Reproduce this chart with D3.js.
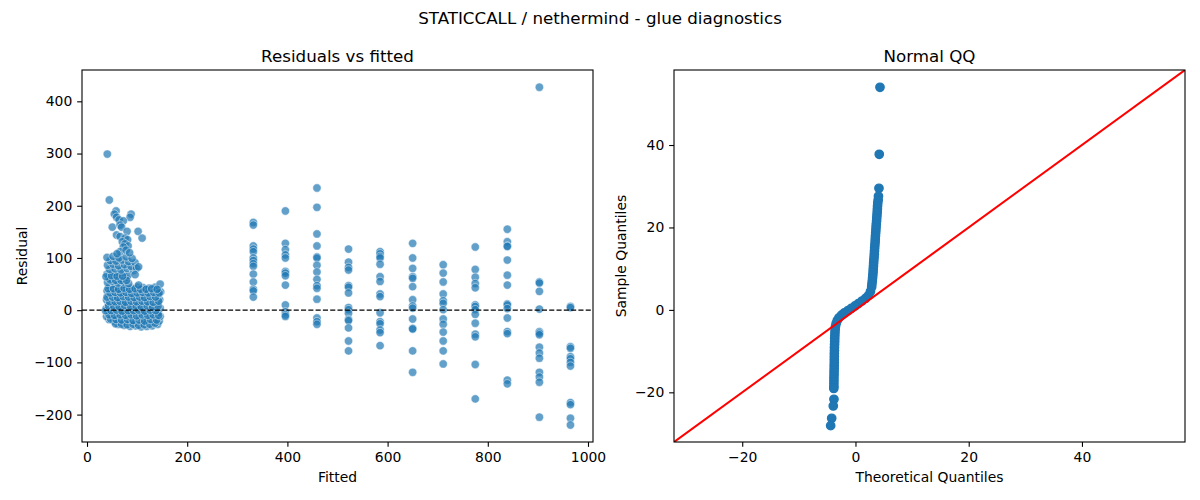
<!DOCTYPE html>
<html><head><meta charset="utf-8">
<script src="https://cdn.jsdelivr.net/npm/d3@7"></script>
<style>body{margin:0;background:#fff}svg{display:block}text{font-family:"DejaVu Sans",sans-serif;fill:#000}</style>
</head><body><svg id="c" width="1200" height="500"></svg>
<script>
// ---------- DATA ----------
const suptitle = "STATICCALL / nethermind - glue diagnostics";
const leftTitle = "Residuals vs fitted", rightTitle = "Normal QQ";
const leftXTicks = [0, 200, 400, 600, 800, 1000];
const leftYTicks = [-200, -100, 0, 100, 200, 300, 400];
const qqTicks = [-20, 0, 20, 40];

// dense cluster of low fitted values: [fitted, residual]
const clusterPoints = [
 [62,-27],[74,-29],[86,-31],[97,-30],[108,-32],[119,-31],[130,-30],[141,-27],
 [44,-18],[53,-21],[65,-23],[76,-22],[87,-24],[99,-23],[110,-25],[121,-22],[132,-24],[144,-21],
 [39,-12],[49,-14],[60,-13],[71,-15],[82,-12],[93,-14],[104,-13],[115,-16],[126,-13],[137,-15],[146,-12],
 [42,-5],[54,-3],[65,-6],[76,-4],[88,-6],[98,-3],[109,-5],[120,-7],[131,-4],[142,-6],
 [38,3],[48,5],[59,2],[70,4],[81,2],[92,5],[103,3],[114,1],[125,4],[136,2],[146,4],
 [43,12],[54,11],[64,13],[75,10],[86,12],[97,14],[108,11],[119,13],[130,10],[141,12],
 [39,20],[49,22],[60,19],[71,21],[81,23],[92,20],[102,22],[113,19],[124,21],[135,23],[145,20],
 [44,29],[55,30],[66,28],[76,31],[87,29],[98,27],[109,30],[120,28],[131,31],[142,29],
 [40,37],[50,38],[61,36],[72,39],[83,37],[94,38],[105,36],[116,38],[127,37],[138,39],[147,35],
 [45,45],[56,44],[67,46],[78,43],[89,42],[100,44],[112,43],[124,42],[136,44],[146,50],
 [57,-26],[69,-27],[80,-28],[92,-27],[103,-29],[114,-28],[125,-27],[136,-25],
 [47,-17],[58,-18],[69,-19],[81,-18],[92,-20],[104,-19],[115,-21],[127,-18],[139,-19],
 [44,-9],[55,-10],[66,-9],[77,-10],[88,-9],[99,-11],[110,-9],[121,-10],[132,-9],[143,-10],
 [37,-1],[48,-1],[59,0],[70,-2],[82,-1],[93,-1],[103,0],[115,-2],[126,0],[137,-1],
 [43,8],[53,8],[64,7],[75,9],[87,7],[98,8],[108,7],[120,8],[131,6],[142,8],
 [45,16],[56,16],[66,17],[77,15],[88,17],[99,16],[110,17],[121,16],[132,15],[143,17],
 [40,25],[51,25],[61,24],[72,26],[83,25],[94,24],[105,25],[115,24],[126,26],[137,25],
 [46,33],[56,34],[67,33],[78,34],[89,32],[100,33],[111,34],[122,33],[133,34],[144,33],
 [42,41],[53,41],[63,40],[74,42],[85,40],[96,41],[107,40],[118,40],[129,41],[140,40],
 [41,53],[51,55],[62,52],[73,54],[83,51],[44,61],[55,63],[66,60],[77,62],[40,69],[50,70],[61,68],[72,71],[82,67],
 [46,58],[57,57],[68,57],[79,57],[38,64],[49,66],[60,65],[71,65],
 [45,78],[56,79],[68,77],[80,80],[93,76],[41,86],[52,88],[63,85],[75,87],[88,84],
 [46,95],[58,94],[70,96],[83,93],[96,91],[40,101],[52,103],[64,100],[78,102],[90,99],
 [99,80],[103,83],[96,68],[103,48],
 [40.5,299],[44.5,211],[58,190],[54.5,184],[88,184],[86,178],[59,178],[64,173],[72.5,171],
 [50.5,159],[66,163],[69,159],[80,151],[102,151],[110,138],[59,144],[66,141],[76,138],
 [81,135],[70.5,131],[76,127],[82,123],[72.5,121],[66,112],[78,115],[60,108],[85,110]
];

// discrete fitted-value columns and their residuals
const columnFitted = [332, 396, 459, 522, 585, 650, 711, 775, 839, 903, 965];
const columnResiduals = [
 [168, 163, 123, 117, 112, 100, 95, 89, 84, 69, 54, 40, 37, 25],
 [190, 128, 116, 106, 100, 74, 71, 66, 48, 10, -3, -9, -12],
 [234, 197, 146, 123, 102, 100, 86, 73, 59, 47, 42, 21, -15, -22, -27],
 [117, 92, 82, 77, 47, 44, 33, 5, 1, -6, -18, -20, -34, -59, -78],
 [112, 108, 103, 100, 88, 64, 55, 31, 26, -5, -22, -26, -38, -43, -68],
 [128, 100, 80, 64, 61, 45, 20, 8, 4, -17, -35, -36, -78, -119],
 [87, 71, 54, 31, 18, 13, 1, -17, -27, -42, -59, -78, -103],
 [121, 78, 63, 51, 43, 10, 7, 1, -8, -25, -46, -51, -104, -170],
 [155, 131, 123, 122, 96, 67, 48, 12, 10, 3, -15, -41, -45, -134, -141],
 [427, 54, 52, 36, 2, -41, -44, -47, -71, -82, -92, -119, -128, -138, -205],
 [7, 5, -70, -73, -89, -93, -100, -107, -177, -181, -207, -220]
];

// QQ points
const qqTheoretical = [
 4.33, 4.20, 4.15, 4.06, 4.01,
 3.94, 3.90, 3.87, 3.84, 3.80, 3.76, 3.73, 3.68, 3.64, 3.61, 3.57, 3.53, 3.50, 3.47, 3.43,
 3.39, 3.36, 3.33, 3.29, 3.25, 3.21, 3.18, 3.14, 3.11, 3.07, 3.02, 2.97, 2.91, 2.86,
 2.65, 2.30, 1.77, 1.15, 0.53, -0.09, -0.71, -1.32, -1.94, -2.47, -2.91, -3.21, -3.41, -3.53,
 -3.59, -3.62, -3.64, -3.66, -3.67, -3.69, -3.71, -3.71, -3.73, -3.73, -3.74, -3.74, -3.76,
 -3.76, -3.78, -3.78, -3.80, -3.80, -3.81, -3.81, -3.83,
 -3.80, -3.92, -4.20, -4.38
];
const qqSample = [
 54.0, 37.75, 29.5, 27.6, 26.66,
 25.93, 25.21, 24.48, 23.75, 23.03, 22.30, 21.57, 20.84, 20.12, 19.39, 18.66, 17.93, 17.20, 16.47, 15.74,
 15.02, 14.29, 13.56, 12.83, 12.11, 11.38, 10.65, 9.92, 9.19, 8.47, 7.74, 7.01, 6.28, 5.56,
 4.46, 3.49, 2.77, 2.16, 1.55, 0.95, 0.39, -0.15, -0.70, -1.28, -1.92, -2.57, -3.30, -4.03,
 -4.75, -5.48, -6.21, -6.94, -7.67, -8.39, -9.12, -9.85, -10.58, -11.31, -12.03, -12.76, -13.49,
 -14.22, -14.94, -15.67, -16.40, -17.13, -17.86, -18.58, -19.07,
 -21.69, -23.31, -26.30, -28.09
];

// ---------- DRAW ----------
const svg = d3.select("#c");
const C0 = "#1f77b4";
const tickLen = 4.86, tickPad = 4.86;
const fmt = d3.format("d");

function frame(g, x0, y0, w, h, xs, ys, xt, yt) {
  const ax = g.append("g").attr("transform", `translate(0,${y0 + h})`)
    .call(d3.axisBottom(xs).tickValues(xt).tickFormat(fmt).tickSize(tickLen).tickPadding(tickPad));
  const ay = g.append("g").attr("transform", `translate(${x0},0)`)
    .call(d3.axisLeft(ys).tickValues(yt).tickFormat(fmt).tickSize(tickLen).tickPadding(tickPad));
  [ax, ay].forEach(a => {
    a.select(".domain").remove();
    a.selectAll(".tick line").attr("stroke", "#000").attr("stroke-width", 1.1);
    a.selectAll(".tick text").attr("font-size", 13.9).attr("font-family", "DejaVu Sans").attr("fill", "#000");
  });
  g.append("rect").attr("x", x0).attr("y", y0).attr("width", w).attr("height", h)
    .attr("fill", "none").attr("stroke", "#000").attr("stroke-width", 1.1);
}

svg.append("text").attr("x", 600).attr("y", 24).attr("text-anchor", "middle")
  .attr("font-size", 16.7).text(suptitle);

// ----- Left panel -----
const L = {x: 82, y: 70, w: 511, h: 372};
const xL = d3.scaleLinear().domain([-10, 1010]).range([L.x, L.x + L.w]);
const yL = d3.scaleLinear().domain([-252.5, 460]).range([L.y + L.h, L.y]);
const gL = svg.append("g");
svg.append("clipPath").attr("id", "clipL").append("rect")
  .attr("x", L.x).attr("y", L.y).attr("width", L.w).attr("height", L.h);
const ptsL = gL.append("g").attr("clip-path", "url(#clipL)");
const allLeft = clusterPoints.map(d => ({f: d[0], r: d[1]}));
columnFitted.forEach((f, i) => columnResiduals[i].forEach(r => allLeft.push({f, r})));
ptsL.selectAll("circle").data(allLeft).join("circle")
  .attr("cx", d => xL(d.f)).attr("cy", d => yL(d.r)).attr("r", 4.17)
  .attr("fill", C0).attr("fill-opacity", 0.7)
  .attr("stroke", "#fff").attr("stroke-opacity", 0.7).attr("stroke-width", 0.67);
ptsL.append("line").attr("x1", L.x).attr("x2", L.x + L.w)
  .attr("y1", yL(0)).attr("y2", yL(0))
  .attr("stroke", "#000").attr("stroke-width", 1.39).attr("stroke-dasharray", "5.1,2.2");
frame(gL, L.x, L.y, L.w, L.h, xL, yL, leftXTicks, leftYTicks);
gL.append("text").attr("x", L.x + L.w / 2).attr("y", 62).attr("text-anchor", "middle")
  .attr("font-size", 16.7).text(leftTitle);
gL.append("text").attr("x", L.x + L.w / 2).attr("y", 482).attr("text-anchor", "middle")
  .attr("font-size", 13.9).text("Fitted");
gL.append("text").attr("transform", `translate(27,${L.y + L.h / 2}) rotate(-90)`)
  .attr("text-anchor", "middle").attr("font-size", 13.9).text("Residual");

// ----- Right panel -----
const R = {x: 674, y: 70, w: 511, h: 372};
const qqLim = [-32.05, 58.2];
const xR = d3.scaleLinear().domain(qqLim).range([R.x, R.x + R.w]);
const yR = d3.scaleLinear().domain(qqLim).range([R.y + R.h, R.y]);
const gR = svg.append("g");
svg.append("clipPath").attr("id", "clipR").append("rect")
  .attr("x", R.x).attr("y", R.y).attr("width", R.w).attr("height", R.h);
const ptsR = gR.append("g").attr("clip-path", "url(#clipR)");
ptsR.selectAll("circle").data(qqTheoretical.map((t, i) => [t, qqSample[i]])).join("circle")
  .attr("cx", d => xR(d[0])).attr("cy", d => yR(d[1])).attr("r", 4.17)
  .attr("fill", C0).attr("stroke", C0).attr("stroke-width", 1.39);
ptsR.append("line").attr("x1", xR(qqLim[0])).attr("y1", yR(qqLim[0]))
  .attr("x2", xR(qqLim[1])).attr("y2", yR(qqLim[1]))
  .attr("stroke", "#ff0000").attr("stroke-width", 2.08);
frame(gR, R.x, R.y, R.w, R.h, xR, yR, qqTicks, qqTicks);
gR.append("text").attr("x", R.x + R.w / 2).attr("y", 62).attr("text-anchor", "middle")
  .attr("font-size", 16.7).text(rightTitle);
gR.append("text").attr("x", R.x + R.w / 2).attr("y", 482).attr("text-anchor", "middle")
  .attr("font-size", 13.9).text("Theoretical Quantiles");
gR.append("text").attr("transform", `translate(626,${R.y + R.h / 2}) rotate(-90)`)
  .attr("text-anchor", "middle").attr("font-size", 13.9).text("Sample Quantiles");
</script></body></html>
